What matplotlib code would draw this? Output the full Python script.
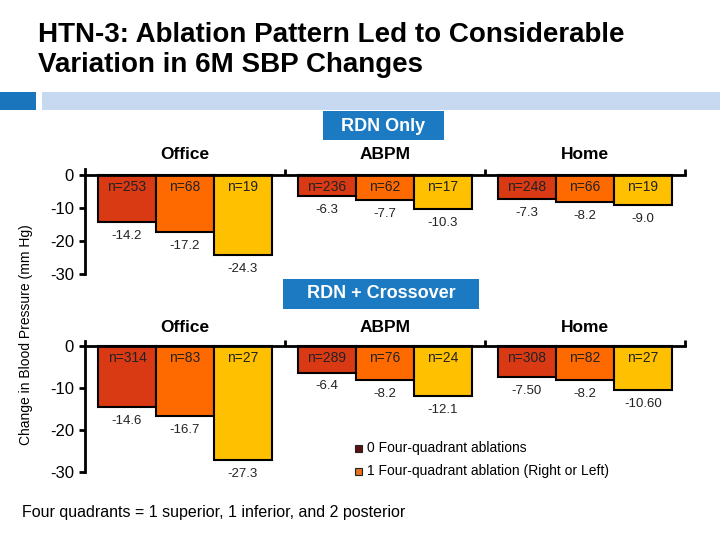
import matplotlib.pyplot as plt
from matplotlib.patches import Rectangle
import numpy as np

plt.rcParams['font.family'] = ['Liberation Sans', 'DejaVu Sans']

groups = ["Office", "ABPM", "Home"]
bar_colors = ["#D93A14", "#FF6A00", "#FFC000"]

# RDN only panel
rdn_n = [253, 68, 19, 236, 62, 17, 248, 66, 19]
rdn_change = [-14.2, -17.2, -24.3, -6.3, -7.7, -10.3, -7.3, -8.2, -9.0]
rdn_labels = ["-14.2", "-17.2", "-24.3", "-6.3", "-7.7", "-10.3", "-7.3", "-8.2", "-9.0"]

# RDN + crossover panel
cross_n = [314, 83, 27, 289, 76, 24, 308, 82, 27]
cross_change = [-14.6, -16.7, -27.3, -6.4, -8.2, -12.1, -7.50, -8.2, -10.60]
cross_labels = ["-14.6", "-16.7", "-27.3", "-6.4", "-8.2", "-12.1", "-7.50", "-8.2", "-10.60"]

yticks = [0, -10, -20, -30]

legend_labels = ["0 Four-quadrant ablations", "1 Four-quadrant ablation (Right or Left)"]
legend_colors = ["#5C1212", "#E8701E"]

W, H = 720, 540


def fx(px):
    return px / W


def fy(py):
    return 1 - py / H


def draw_panel(ax, n_vals, changes, labels, ytop, header_pad):
    x = np.repeat(np.arange(3), 3) + np.tile([0.21, 0.5, 0.79], 3)
    ax.bar(x, changes, width=0.29, color=bar_colors * 3, edgecolor='black',
           linewidth=1.5, zorder=2)
    for xi, n, v, lab in zip(x, n_vals, changes, labels):
        ax.annotate(f"n={n}", (xi, 0), xytext=(0, -9), textcoords='offset points',
                    ha='center', va='center', fontsize=10, color='#222222')
        ax.annotate(lab, (xi, v), xytext=(0, -10), textcoords='offset points',
                    ha='center', va='center', fontsize=9.5, color='#222222')
    for g, name in enumerate(groups):
        ax.annotate(name, (g + 0.5, 0), xytext=(0, header_pad), textcoords='offset points',
                    ha='center', va='center', fontsize=12.5, fontweight='bold')
    ax.set_xlim(0, 3)
    ax.set_ylim(-30, ytop)
    for s in ['top', 'right']:
        ax.spines[s].set_visible(False)
    ax.spines['bottom'].set_position(('data', 0))
    ax.spines['bottom'].set_linewidth(2)
    ax.spines['left'].set_linewidth(2)
    ax.spines['bottom'].set_zorder(3)
    ax.set_xticks([1, 2, 3])
    ax.set_xticklabels([])
    ax.tick_params(axis='x', direction='in', length=4, width=2)
    ax.set_yticks(yticks)
    ax.set_yticklabels([str(t) for t in yticks])
    ax.tick_params(axis='y', direction='out', length=4, width=2, labelsize=12, pad=4)
    ax.set_facecolor('none')


fig = plt.figure(figsize=(7.2, 5.4), dpi=100)

# title
fig.text(fx(38), fy(41.7), "HTN-3: Ablation Pattern Led to Considerable",
         fontsize=20, fontweight='bold', va='baseline', ha='left')
fig.text(fx(38), fy(71.5), "Variation in 6M SBP Changes",
         fontsize=20, fontweight='bold', va='baseline', ha='left')

# header band
fig.add_artist(Rectangle((0, fy(110)), fx(36), (110 - 92) / H, transform=fig.transFigure,
                         color='#1B75BC', lw=0))
fig.add_artist(Rectangle((fx(42), fy(110)), 1 - fx(42), (110 - 92) / H, transform=fig.transFigure,
                         color='#C6D9F0', lw=0))

# panel boxes
fig.add_artist(Rectangle((fx(323), fy(140)), fx(444 - 323), (140 - 111) / H,
                         transform=fig.transFigure, color='#1B7AC2', lw=0))
fig.text(fx(383.5), fy(126), "RDN Only", color='white', fontsize=13, fontweight='bold',
         ha='center', va='center')
fig.add_artist(Rectangle((fx(283), fy(309)), fx(479 - 283), (309 - 279) / H,
                         transform=fig.transFigure, color='#1B7AC2', lw=0))
fig.text(fx(381), fy(294), "RDN + Crossover", color='white', fontsize=13, fontweight='bold',
         ha='center', va='center')

ax1 = fig.add_axes([fx(85), fy(274), fx(600), (274 - 169) / H])
draw_panel(ax1, rdn_n, rdn_change, rdn_labels, 1.8, 15)

ax2 = fig.add_axes([fx(85), fy(471.7), fx(600), (471.7 - 341) / H])
draw_panel(ax2, cross_n, cross_change, cross_labels, 1.1, 12.7)

fig.text(fx(26), fy(335), "Change in Blood Pressure (mm Hg)", rotation=90,
         ha='center', va='center', fontsize=10)

# legend
for i, (lab, col) in enumerate(zip(legend_labels, legend_colors)):
    yc = 448 + i * 23.5
    fig.add_artist(Rectangle((fx(355), fy(yc + 3.5)), fx(7), 7 / H, transform=fig.transFigure,
                             facecolor=col, edgecolor='#222222', lw=0.8))
    fig.text(fx(367), fy(yc), lab, fontsize=10, ha='left', va='center')

fig.text(fx(21.5), fy(512.5), "Four quadrants = 1 superior, 1 inferior, and 2 posterior",
         fontsize=11.5, ha='left', va='center')

fig.savefig("out.png", dpi=100)
